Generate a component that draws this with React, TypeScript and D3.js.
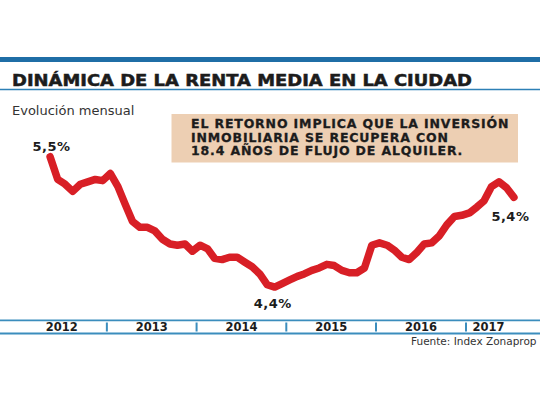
import React, { useEffect, useRef } from 'react';
import * as d3 from 'd3';

// Rental yield, monthly, May 2012 - Jul 2017 (%)
const firstMonth = new Date(2012, 4, 1);
const rentYield = [
    5.50, 5.31, 5.27, 5.21, 5.27, 5.29, 5.31, 5.30, 5.36, 5.25,
    5.11, 4.96, 4.91, 4.91, 4.88, 4.81, 4.77, 4.76, 4.77, 4.71,
    4.76, 4.73, 4.65, 4.64, 4.66, 4.66, 4.62, 4.58, 4.52, 4.43,
    4.41, 4.44, 4.47, 4.50, 4.52, 4.55, 4.57, 4.60, 4.59, 4.55,
    4.53, 4.53, 4.57, 4.76, 4.78, 4.76, 4.72, 4.66, 4.64, 4.70,
    4.77, 4.78, 4.84, 4.93, 5.00, 5.01, 5.03, 5.08, 5.13, 5.25,
    5.29, 5.24, 5.16,
];
const years = [2012, 2013, 2014, 2015, 2016, 2017];
const callouts = [
    { text: '5,5%', at: 'first' },
    { text: '4,4%', at: 'min' },
    { text: '5,4%', at: 'last' },
];
const title = 'DINÁMICA DE LA RENTA MEDIA EN LA CIUDAD';
const subtitle = 'Evolución mensual';
const noteLines = [
    'EL RETORNO IMPLICA QUE LA INVERSIÓN',
    'INMOBILIARIA SE RECUPERA CON',
    '18.4 AÑOS DE FLUJO DE ALQUILER.',
];
const source = 'Fuente: Index Zonaprop';

const App: React.FC = () => {
    const chartRef = useRef<SVGSVGElement | null>(null);

    useEffect(() => {
        if (!chartRef.current) return;

        const width = 540;
        const height = 405;
        const font = "'DejaVu Sans', sans-serif";
        const dark = '#1c1c1c';

        d3.select(chartRef.current).selectAll('*').remove();

        const svg = d3.select(chartRef.current)
            .attr('width', width)
            .attr('height', height)
            .style('background', '#fff');

        const dates = rentYield.map((_, i) => d3.timeDay.offset(d3.timeMonth.offset(firstMonth, i), 14));

        const x = d3.scaleTime()
            .domain([new Date(2012, 0, 1), new Date(2018, 0, 1)])
            .range([16.9, 555.7]);

        const y = d3.scaleLinear()
            .domain([4.4, 5.5])
            .range([288.3, 156.7]);

        // header
        svg.append('rect')
            .attr('x', 0).attr('y', 57)
            .attr('width', width).attr('height', 5)
            .attr('fill', '#1f6ea6');

        svg.append('text')
            .attr('x', 12).attr('y', 85.5)
            .attr('textLength', 460)
            .attr('lengthAdjust', 'spacingAndGlyphs')
            .style('font-family', font)
            .style('font-weight', 'bold')
            .style('font-size', '15.5px')
            .style('fill', dark)
            .style('stroke', dark)
            .style('stroke-width', 0.5)
            .text(title);

        svg.append('line')
            .attr('x1', 0).attr('x2', width)
            .attr('y1', 89.5).attr('y2', 89.5)
            .attr('stroke', '#2d80b6')
            .attr('stroke-width', 1.5);

        svg.append('text')
            .attr('x', 12).attr('y', 115)
            .style('font-family', font)
            .style('font-size', '13px')
            .style('fill', '#333')
            .text(subtitle);

        // note box
        svg.append('rect')
            .attr('x', 171.5).attr('y', 114)
            .attr('width', 346.5).attr('height', 48.5)
            .attr('fill', '#edcfb3');

        noteLines.forEach((line, i) => {
            svg.append('text')
                .attr('x', 191)
                .attr('y', 128 + i * 13.5)
                .style('font-family', font)
                .style('font-weight', 'bold')
                .style('font-size', '12.5px')
                .style('letter-spacing', '0.85px')
                .style('fill', dark)
                .style('stroke', dark)
                .style('stroke-width', 0.3)
                .text(line);
        });

        // series
        const line = d3.line<number>()
            .x((_, i) => x(dates[i]))
            .y(d => y(d));

        svg.append('path')
            .datum(rentYield)
            .attr('d', line)
            .attr('fill', 'none')
            .attr('stroke', '#d81f26')
            .attr('stroke-width', 7.5)
            .attr('stroke-linejoin', 'round')
            .attr('stroke-linecap', 'round');

        const minIndex = d3.minIndex(rentYield);
        const lastIndex = rentYield.length - 1;
        const offsets: Record<string, [number, number, number]> = {
            first: [0, 1.5, -6],
            min: [minIndex, -2, 20.5],
            last: [lastIndex, -3.5, 23.5],
        };

        callouts.forEach(c => {
            const [idx, dx, dy] = offsets[c.at];
            svg.append('text')
                .attr('x', x(dates[idx]) + dx)
                .attr('y', y(rentYield[idx]) + dy)
                .attr('text-anchor', 'middle')
                .style('font-family', font)
                .style('font-weight', 'bold')
                .style('font-size', '13px')
                .style('letter-spacing', '0.5px')
                .style('fill', dark)
                .text(c.text);
        });

        // year band
        const axisColor = '#3b8dbd';
        [320.3, 333.5].forEach(yy => {
            svg.append('line')
                .attr('x1', 0).attr('x2', width)
                .attr('y1', yy).attr('y2', yy)
                .attr('stroke', axisColor)
                .attr('stroke-width', 1.8);
        });

        const bandStart = 12;
        const bandEnd = 511;

        years.forEach((yr, i) => {
            const x0 = Math.max(x(new Date(yr, 0, 1)), bandStart);
            const x1 = Math.min(x(new Date(yr + 1, 0, 1)), bandEnd);

            if (i > 0) {
                svg.append('line')
                    .attr('x1', x0).attr('x2', x0)
                    .attr('y1', 322.5).attr('y2', 331.5)
                    .attr('stroke', axisColor)
                    .attr('stroke-width', 2);
            }

            svg.append('text')
                .attr('x', (x0 + x1) / 2)
                .attr('y', 331)
                .attr('text-anchor', 'middle')
                .style('font-family', font)
                .style('font-weight', 'bold')
                .style('font-size', '11.5px')
                .style('fill', dark)
                .text(String(yr));
        });

        svg.append('text')
            .attr('x', 536.5).attr('y', 345)
            .attr('text-anchor', 'end')
            .style('font-family', font)
            .style('font-size', '10.5px')
            .style('fill', '#333')
            .text(source);
    }, []);

    return (
        <div style={{ position: 'absolute', left: 0, top: 0 }}>
            <svg ref={chartRef} style={{ display: 'block' }} />
        </div>
    );
};

export default App;
